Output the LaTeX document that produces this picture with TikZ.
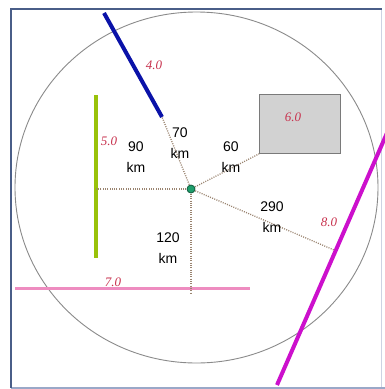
\documentclass[tikz,border=0pt]{standalone}
\usepackage{fontspec}
\setmainfont{Liberation Sans}
\newfontfamily\labserif{Liberation Serif}
\definecolor{framecol}{HTML}{4A5E88}
\definecolor{framelight}{HTML}{9AA8C8}
\definecolor{circcol}{HTML}{8A8A8A}
\definecolor{bluecol}{HTML}{0A12A8}
\definecolor{greencol}{HTML}{99C20A}
\definecolor{magcol}{HTML}{CC10CC}
\definecolor{pinkcol}{HTML}{EE8CC0}
\definecolor{redlab}{HTML}{C8324E}
\definecolor{dotcol}{HTML}{9A8470}
\definecolor{boxfill}{HTML}{D2D2D2}
\definecolor{boxline}{HTML}{7A7A7A}
\definecolor{centerfill}{HTML}{1E9E6C}
\definecolor{centerline}{HTML}{0E5A3C}
\tikzset{
  dist/.style={draw=dotcol, line width=1.3pt, dash pattern=on 1pt off 1.3pt},
  vallab/.style={font=\labserif\itshape\fontsize{13}{15}\selectfont, text=redlab, inner sep=0pt},
  kmlab/.style={font=\fontsize{14}{20.5}\selectfont, align=center, inner sep=0pt, text=black},
}
\begin{document}
\begin{tikzpicture}[x=1pt,y=-1pt]
\useasboundingbox (0,0) rectangle (385,389);
\fill[white] (0,0) rectangle (385,389);
% frame
\draw[framelight!50, line width=1pt] (381,9) -- (381,388);
\draw[framelight, line width=2pt] (11,388) -- (385,388);
\draw[framecol, line width=2.5pt] (11,388) -- (11,9) -- (382,9);
% circle
\draw[circcol, line width=0.9pt] (196.5,187.5) ellipse [x radius=181.5, y radius=175.5];
% features
\coordinate (bA) at (104,13);
\coordinate (bB) at (162,117);
\draw[bluecol, line width=4pt] (bA) -- (bB);
\coordinate (gA) at (96,95);
\coordinate (gB) at (96,258);
\draw[greencol, line width=3.5pt] (gA) -- (gB);
\coordinate (gM) at (96,189);
\node[draw=boxline, fill=boxfill, line width=0.9pt, minimum width=81pt, minimum height=59pt, anchor=north west, inner sep=0pt] (box) at (259,94) {};
\coordinate (mA) at (387,133);
\coordinate (mB) at (277,385);
\draw[magcol, line width=4pt] (mA) -- (mB);
\coordinate (mM) at (334,250);
\coordinate (pA) at (15,288);
\coordinate (pB) at (250,288);
\draw[pinkcol, line width=3pt] (pA) -- (pB);
\coordinate (pM) at (191,293);
% center
\coordinate (c) at (191,189);
% distance connectors
\draw[dist] (c) -- (bB);
\draw[dist] (c) -- (gM);
\draw[dist] (c) -- (box.south west);
\draw[dist] (c) -- (mM);
\draw[dist] (c) -- (pM);
\node[circle, fill=centerfill, draw=centerline, line width=0.8pt, minimum size=8pt, inner sep=0pt] (cdot) at (c) {};
% value labels
\node[vallab] (l4) at (154,65) {4.0};
\node[vallab] (l5) at (109,141) {5.0};
\node[vallab] (l6) at (293,117) {6.0};
\node[vallab] (l7) at (113,282) {7.0};
\node[vallab] (l8) at (329,222) {8.0};
% distance labels
\node[kmlab] (d90) at (136,157) {90\\km};
\node[kmlab] (d70) at (180,143) {70\\km};
\node[kmlab] (d60) at (231,157) {60\\km};
\node[kmlab] (d290) at (272,217) {290\\km};
\node[kmlab] (d120) at (168,248) {120\\km};
\end{tikzpicture}
\end{document}
